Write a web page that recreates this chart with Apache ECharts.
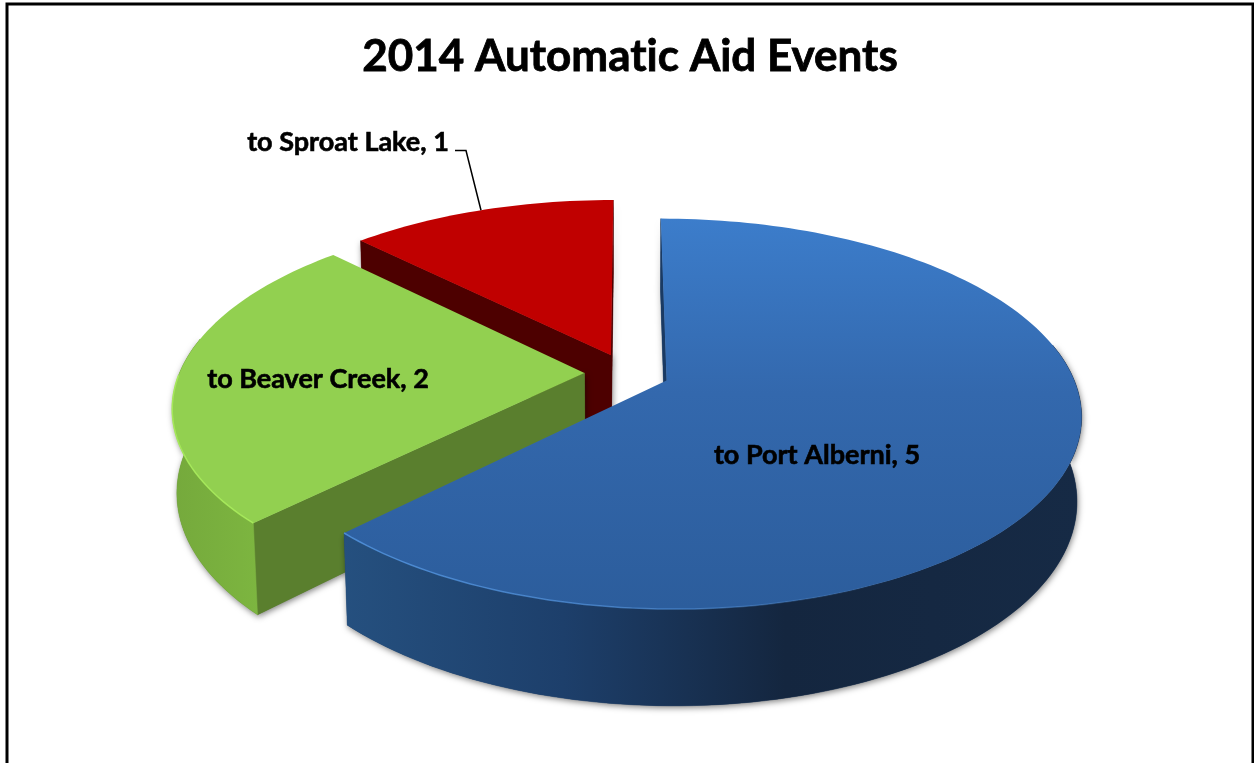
<!DOCTYPE html>
<html><head><meta charset="utf-8">
<style>html,body{margin:0;padding:0;background:#fff}#c{width:1254px;height:763px}</style>
<script src="https://cdn.jsdelivr.net/npm/echarts@6/dist/echarts.min.js"></script>
</head><body><div id="c"></div>
<script>
const chartTitle = '2014 Automatic Aid Events';
const categories = ['to Port Alberni', 'to Beaver Creek', 'to Sproat Lake'];
const values = [5, 2, 1];

// the reference text has no "ti" ligature
['fillText', 'strokeText'].forEach(m => {
  const orig = CanvasRenderingContext2D.prototype[m];
  CanvasRenderingContext2D.prototype[m] = function () { this.textRendering = 'optimizeSpeed'; return orig.apply(this, arguments); };
});

// projection of the tilted pie (perspective plane onto the screen)
const CX = 627, CY = 373, RX = 405, RY = 187, PERSP = 0.1694, EXPLODE = 0.105, DEPTH = 83, DEPTH_W = 0.010;
const styles = [
  { top: {type:'linear',x:0,y:218,x2:0,y2:608,global:true,colorStops:[{offset:0,color:'#3c7dcb'},{offset:.45,color:'#3368ad'},{offset:1,color:'#2c5d9c'}]},
    wall: {type:'linear',x:342,y:0,x2:1080,y2:0,global:true,colorStops:[{offset:0,color:'#25507f'},{offset:.3,color:'#1d3f6b'},{offset:.6,color:'#14263f'},{offset:1,color:'#162a45'}]},
    side: '#1a3a63',
    rim: {type:'linear',x:342,y:0,x2:900,y2:0,global:true,colorStops:[{offset:0,color:'rgba(80,145,220,0.9)'},{offset:.6,color:'rgba(80,145,220,0.6)'},{offset:1,color:'rgba(80,145,220,0)'}]},
    z: 30 },
  { top: '#92d050',
    wall: {type:'linear',x:172,y:0,x2:262,y2:0,global:true,colorStops:[{offset:0,color:'#75a93c'},{offset:1,color:'#7db640'}]},
    side: '#5a7f2e', rim: 'rgba(168,236,92,0.9)', z: 20 },
  { top: '#c00000', wall: '#7a0000', side: '#4d0000', rim: 'rgba(0,0,0,0)', z: 10 }
];
const labelCenters = [[817, 455], [318, 379], [348, 142]];
const labelFont = 'bold 27px Lato';

const total = values.reduce((a, b) => a + b, 0);
function project(U, V, low) {
  const d = 1 + PERSP * V + (low ? DEPTH_W : 0);
  return [CX + RX * U / d, CY + (-RY * V + (low ? DEPTH : 0)) / d];
}
function sliceGeom(idx) {
  let before = 0;
  for (let i = 0; i < idx; i++) before += values[i];
  const a0 = before / total * 2 * Math.PI, a1 = (before + values[idx]) / total * 2 * Math.PI;
  const mid = (a0 + a1) / 2;
  const ou = EXPLODE * Math.sin(mid), ov = EXPLODE * Math.cos(mid);
  const n = Math.max(8, Math.round((a1 - a0) * 40)), ts = [];
  for (let i = 0; i <= n; i++) ts.push(a0 + (a1 - a0) * i / n);
  const pt = (t, low) => project(ou + Math.sin(t), ov + Math.cos(t), low);
  return { a0, a1, mid, ou, ov, ts, pt, apex: project(ou, ov, false), apexLow: project(ou, ov, true) };
}
function renderItem(params, api) {
  const idx = params.dataIndex, s = styles[idx], g = sliceGeom(idx);
  const shadow = { shadowBlur: 6, shadowColor: 'rgba(0,0,0,0.5)', shadowOffsetX: 1, shadowOffsetY: 2 };
  const faces = [];
  // radial walls, only where they face the viewer
  [[g.a0, -Math.PI / 2], [g.a1, Math.PI / 2]].forEach(([a, turn]) => {
    if (Math.cos(a + turn) > 0.01) return;
    faces.push({ points: [g.apex, g.pt(a, false), g.pt(a, true), g.apexLow], fill: s.side });
  });
  // outer wall, front part only
  const front = g.ts.filter(t => Math.cos(t) < 0.2);
  if (front.length > 1) {
    const up = front.map(t => g.pt(t, false)), low = front.map(t => g.pt(t, true));
    faces.push({ points: up.concat(low.reverse()), fill: s.wall });
  }
  const kids = [];
  // shadow-casting layer under the walls, so the walls do not shade each other
  faces.forEach(f => kids.push({ type: 'polygon', z2: s.z, shape: { points: f.points }, style: Object.assign({ fill: s.side }, shadow) }));
  faces.forEach(f => kids.push({ type: 'polygon', z2: s.z + 1, shape: { points: f.points }, style: { fill: f.fill, stroke: f.fill, lineWidth: 0.5 } }));
  // top face
  kids.push({ type: 'polygon', z2: s.z + 2, shape: { points: [g.apex].concat(g.ts.map(t => g.pt(t, false))) }, style: { fill: s.top } });
  // lit rim on the front of the top face
  const rim = g.ts.filter(t => Math.cos(t) < 0).map(t => g.pt(t, false));
  if (rim.length > 1)
    kids.push({ type: 'polyline', z2: s.z + 3, shape: { points: rim }, style: { stroke: s.rim, lineWidth: 1.5, fill: null } });
  // label
  const lc = labelCenters[idx];
  kids.push({ type: 'text', z2: 50, style: { text: categories[idx] + ', ' + api.value(0), x: lc[0], y: lc[1],
    align: 'center', verticalAlign: 'middle', font: labelFont, fill: '#000', stroke: '#000', lineWidth: 0.6 } });
  if (idx === 2) {
    kids.push({ type: 'polyline', z2: 50, shape: { points: [[455, 150.5], [466, 150.5], g.pt(g.mid, false)] },
      style: { stroke: '#000', lineWidth: 1.5, fill: null } });
  }
  return { type: 'group', children: kids };
}
const chart = echarts.init(document.getElementById('c'), null, { renderer: 'canvas' });
chart.setOption({
  animation: false,
  backgroundColor: '#fff',
  title: { text: chartTitle, left: 625, top: 30, textAlign: 'center',
    textStyle: { fontFamily: 'Lato', fontWeight: 'bold', fontSize: 44, color: '#000', textBorderColor: '#000', textBorderWidth: 0.8 } },
  graphic: [{ type: 'rect', silent: true, z: -1, shape: { x: 7, y: 4, width: 1246, height: 800 },
    style: { fill: 'none', stroke: '#000', lineWidth: 3 } }],
  series: [{ type: 'custom', coordinateSystem: 'none', clip: false, renderItem,
    data: values.map((v, i) => ({ name: categories[i], value: [v] })) }]
});
</script></body></html>
